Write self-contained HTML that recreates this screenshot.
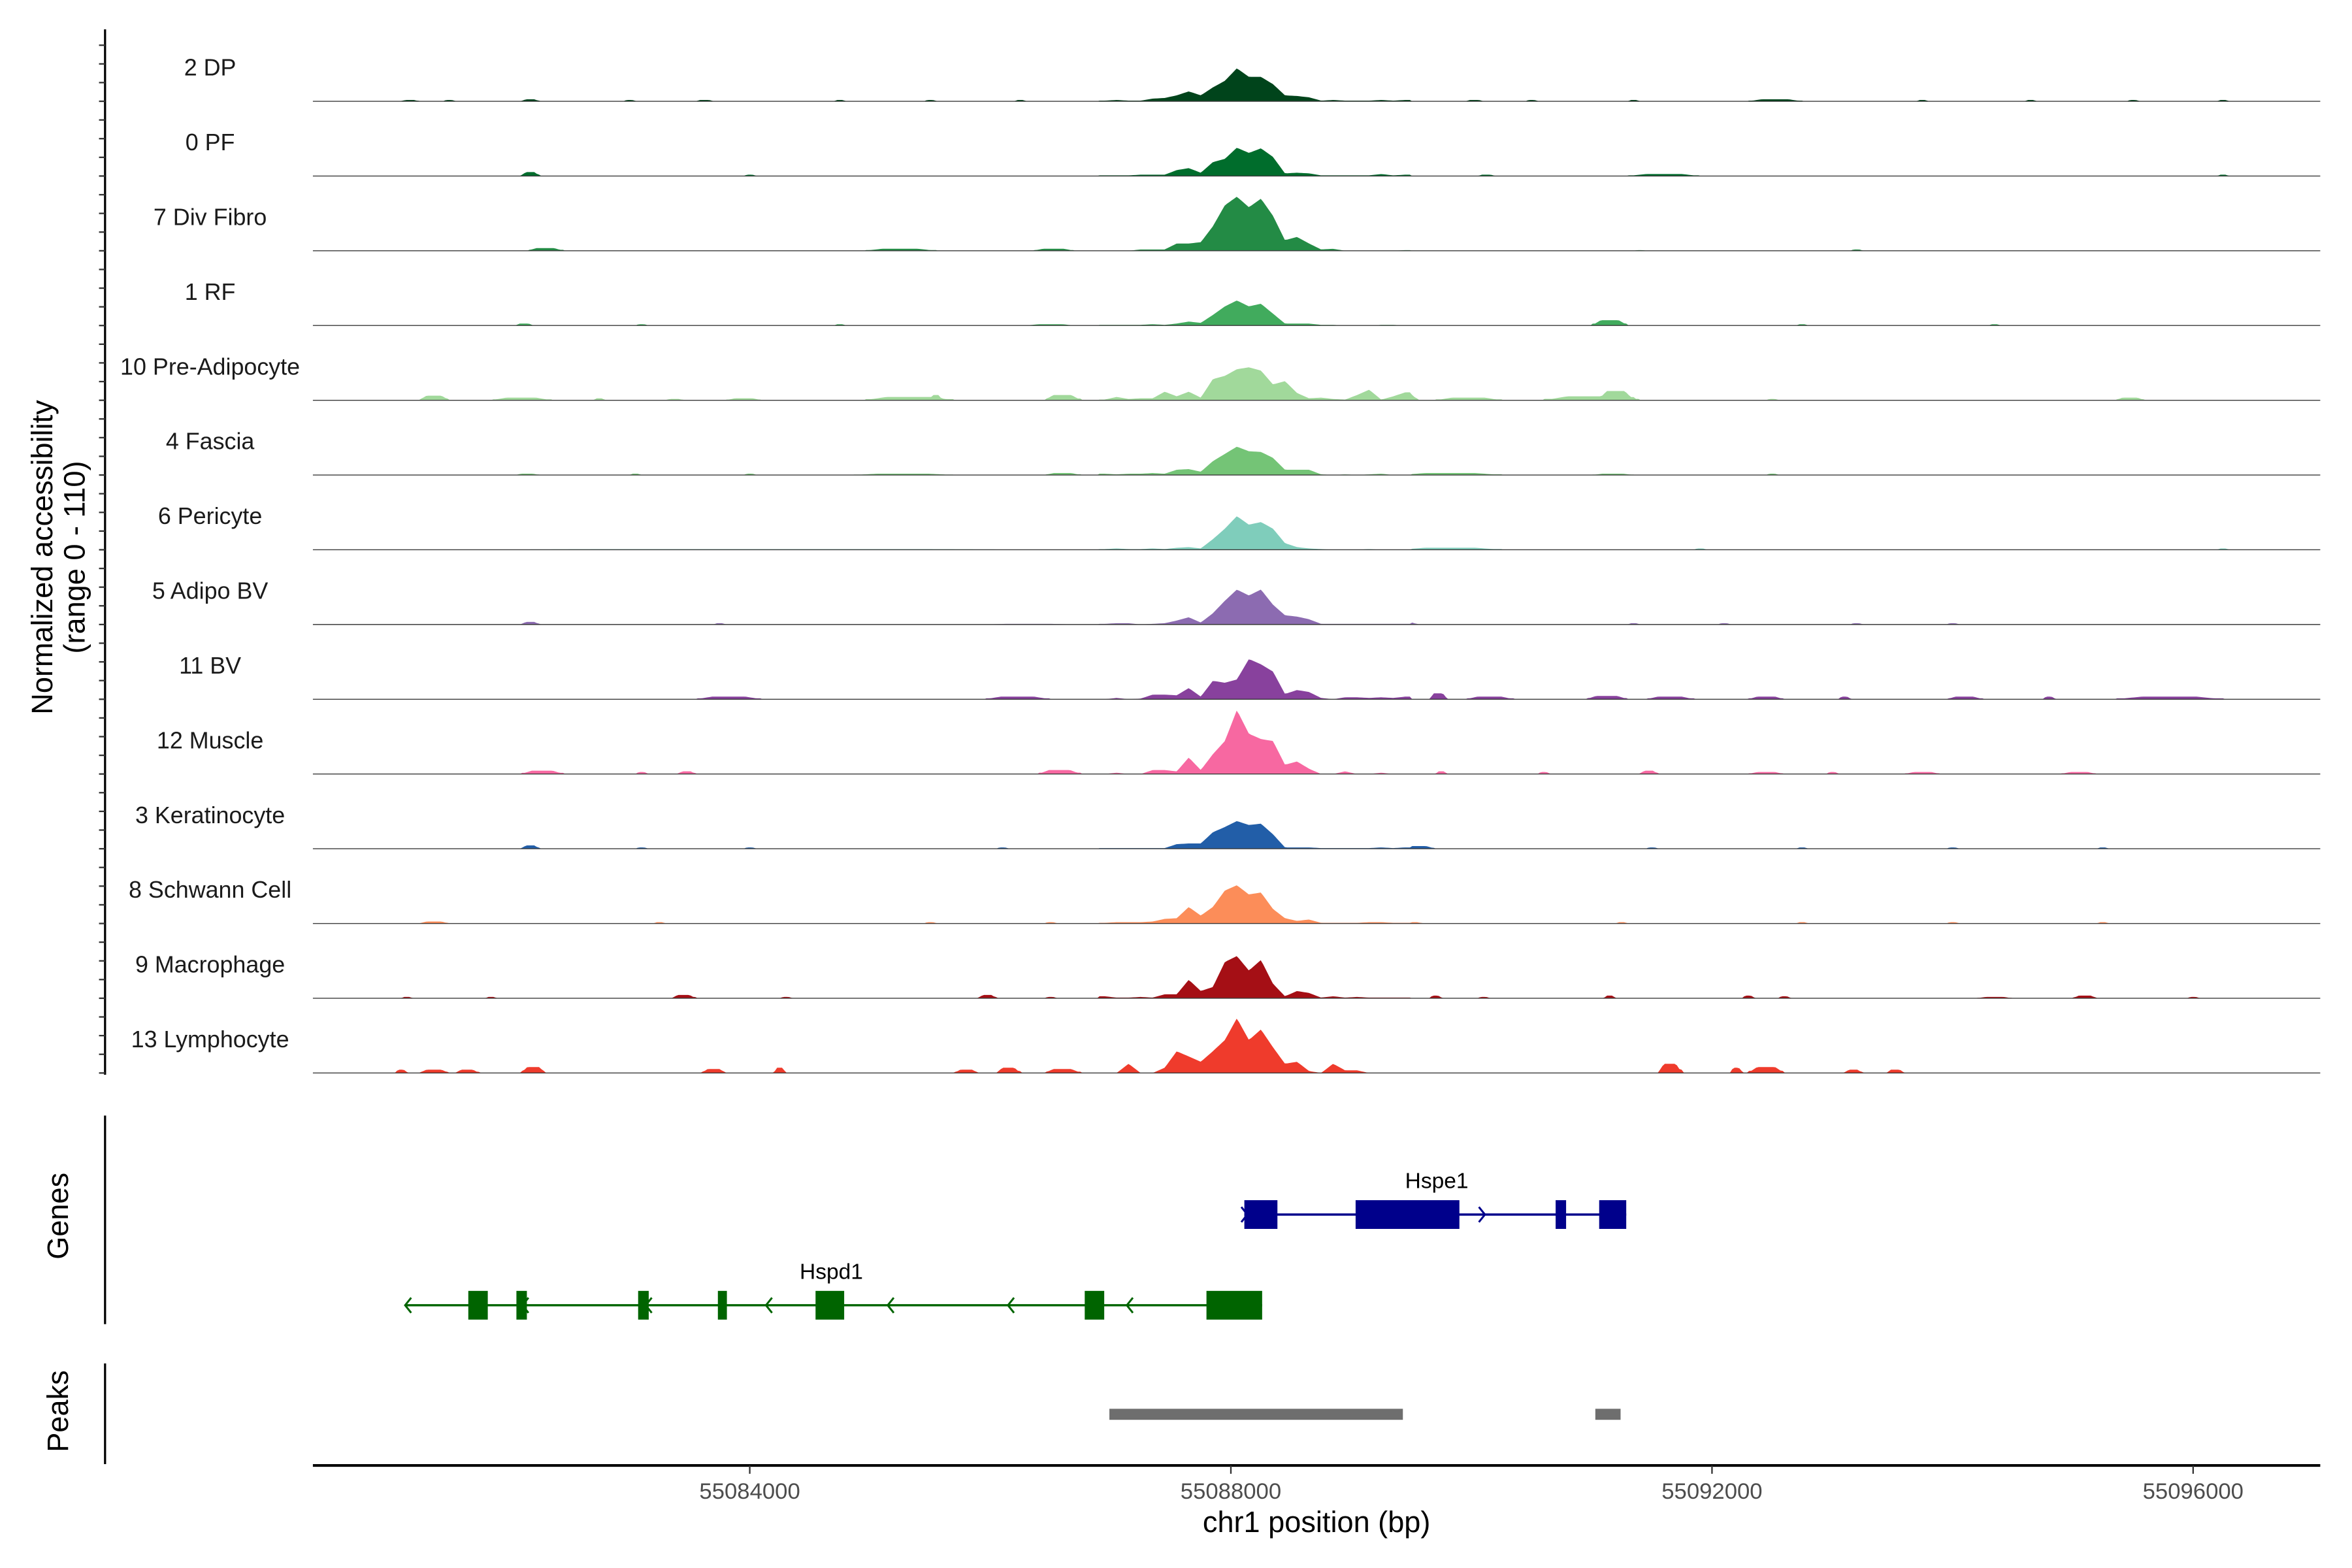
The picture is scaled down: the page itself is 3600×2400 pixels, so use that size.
<!DOCTYPE html>
<html><head><meta charset="utf-8"><title>Coverage plot chr1 Hspd1/Hspe1</title>
<style>html,body{margin:0;padding:0;background:#fff;}svg{display:block;}</style></head>
<body>
<svg id="chart" xmlns="http://www.w3.org/2000/svg" width="3600" height="2400" viewBox="0 0 1556 1037.33" preserveAspectRatio="none" font-family="Liberation Sans, Arial, sans-serif">
<rect x="0" y="0" width="1556" height="1037.33" fill="#fff"/>
<g id="tracks"></g>
<g id="yaxis"></g>
<text transform="translate(34.6,368.7) rotate(-90)" text-anchor="middle" font-size="19.5" fill="#000">Normalized accessibility</text>
<text transform="translate(56,368.7) rotate(-90)" text-anchor="middle" font-size="19.5" fill="#000">(range 0 - 110)</text>
<g id="genes"></g>
<line x1="69.5" y1="738" x2="69.5" y2="876" stroke="#000" stroke-width="1.4"/>
<text transform="translate(45,804.5) rotate(-90)" text-anchor="middle" font-size="19.5" fill="#000">Genes</text>
<g id="peaks"></g>
<line x1="69.5" y1="902" x2="69.5" y2="968.6" stroke="#000" stroke-width="1.4"/>
<text transform="translate(45,933.6) rotate(-90)" text-anchor="middle" font-size="19.5" fill="#000">Peaks</text>
<g id="xaxis"></g>
<text x="871" y="1013.6" text-anchor="middle" font-size="19.5" fill="#000">chr1 position (bp)</text>
</svg>
<script>
// ---- data (positions in bp; values = normalized accessibility 0-110) ----
const trackNames = ["2 DP","0 PF","7 Div Fibro","1 RF","10 Pre-Adipocyte","4 Fascia","6 Pericyte","5 Adipo BV","11 BV","12 Muscle","3 Keratinocyte","8 Schwann Cell","9 Macrophage","13 Lymphocyte"];
const trackColors = ["#00441b","#006d2c","#238b45","#41ab5d","#a1d99b","#74c476","#7fcdbb","#8c6bb1","#88419d","#f768a1","#225ea8","#fc8d59","#a50f15","#ef3b2c"];
const coreStart = 55086900;
const coreBinSize = 100;
const core2DP = [1,2,1,1,4,5,9,15,9,21,31,50,37,37,26,9,8,6,1,2,1,1,1,2,1,2];
const core0PF = [1,1,1,2,2,2,9,12,5,21,26,43,35,42,29,4,5,4,1,1,1,1,1,3,1,2];
const core7Div = [0,0,0,2,2,2,11,11,13,37,69,82,66,79,53,16,21,11,2,3,0,0,0,0,0,1];
const core1RF = [1,1,1,1,2,1,3,6,4,16,29,38,29,33,18,3,3,3,1,1,0,0,0,1,1,0];
const core10PreAd = [1,5,2,3,3,13,6,13,4,32,37,47,50,45,24,29,11,3,4,2,1,8,16,1,6,12];
const core4Fascia = [2,1,2,2,3,2,8,9,5,21,32,43,36,35,26,8,8,8,1,0,1,0,1,2,0,0];
const core6Peri = [1,2,1,1,2,1,3,4,2,16,32,51,38,42,32,10,4,2,1,0,0,0,1,0,0,0];
const core5AdBV = [1,2,2,0,1,2,6,11,3,17,36,53,44,53,30,14,12,8,1,1,1,1,1,1,1,1];
const core11BV = [0,2,0,1,7,7,6,17,4,28,25,30,61,53,42,8,14,11,2,0,3,3,2,3,2,4];
const core12Muscle = [0,2,0,0,6,6,4,25,6,30,50,97,61,53,50,14,19,8,0,0,4,0,0,2,0,0];
const core3Kera = [1,1,1,1,1,1,7,8,8,25,33,42,36,38,22,2,2,2,1,1,1,1,1,2,1,2];
const core8Schwann = [1,2,2,2,3,7,8,25,12,25,50,58,44,47,22,8,4,6,1,1,1,1,2,2,1,1];
const core9Macro = [3,1,1,2,1,6,6,28,11,17,55,64,42,58,22,3,11,8,1,3,1,2,1,1,1,1];
const core13Lymph = [0,0,14,0,0,8,33,25,17,33,50,83,50,66,39,14,17,3,0,14,4,4,0,0,0,0];
// background bumps: [start, end, value], positions relative to 55,000,000
const bg2DP = [[81100,81250,2],[81450,81550,2],[82100,82250,3],[82950,83050,2],[83550,83700,2],[84700,84800,2],[85450,85550,2],[86200,86300,2],[89950,90100,2],[90450,90550,2],[91300,91400,2],[92300,92750,3],[93700,93800,2],[94600,94700,2],[95450,95550,2],[96200,96300,2]];
const bg0PF = [[82100,82250,6],[83950,84050,2],[90050,90200,2],[91300,91900,3],[96200,96300,2]];
const bg7Div = [[82150,82450,4],[84950,85550,3],[86350,86700,3],[91350,91450,1],[93150,93250,2]];
const bg1RF = [[82050,82200,3],[83050,83150,2],[84700,84800,2],[86300,86700,2],[91000,91300,8],[92700,92800,2],[94300,94400,2]];
const bg10PreAd = [[81250,81500,7],[81850,82350,4],[82700,82800,3],[83300,83450,2],[83800,84100,3],[84950,85700,5],[85500,85600,8],[86450,86750,8],[89400,89550,8],[89700,90250,4],[90600,91400,6],[91050,91350,14],[92450,92550,2],[95350,95600,4]];
const bg4Fascia = [[82050,82250,2],[83000,83100,2],[83950,84050,2],[84850,85700,2],[86450,86750,3],[89400,90250,3],[91000,91350,2],[92450,92550,2]];
const bg6Peri = [[81500,86700,1],[89400,90250,3],[91850,91950,2],[96200,96300,2]];
const bg5AdBV = [[82100,82250,4],[83700,83800,2],[85950,86700,1],[89400,89550,3],[91300,91400,2],[92050,92150,2],[93150,93250,2],[93950,94050,2]];
const bg11BV = [[83550,84100,4],[85950,86500,4],[86950,87250,5],[89400,89500,5],[89650,89800,9],[89950,90350,4],[90950,91300,5],[91450,91850,4],[92300,92600,4],[93050,93150,4],[93950,94250,4],[94750,94850,4],[95350,96250,4]];
const bg12Muscle = [[82100,82450,5],[83050,83150,3],[83400,83550,4],[86400,86750,6],[89700,89800,4],[90550,90650,3],[91400,91550,5],[92300,92600,3],[92950,93050,3],[93600,93900,3],[94900,95200,3]];
const bg3Kera = [[82100,82250,5],[83050,83150,2],[83950,84050,2],[86050,86150,2],[89400,89700,4],[91450,91550,2],[92700,92800,2],[93950,94050,2],[95200,95300,2]];
const bg8Schwann = [[81250,81500,3],[83200,83300,2],[85450,85550,2],[86450,86550,2],[89400,89600,2],[91200,91300,2],[92700,92800,2],[93950,94050,2],[95200,95300,2]];
const bg9Macro = [[81100,81200,2],[81800,81900,2],[83350,83550,5],[84250,84350,2],[85900,86050,5],[86450,86550,2],[89650,89750,4],[90050,90150,2],[91100,91200,4],[92250,92350,4],[92550,92650,3],[94200,94500,2],[95000,95200,4],[95950,96050,2]];
const bg13Lymph = [[81050,81150,5],[81250,81500,5],[81550,81750,5],[82100,82300,9],[83600,83800,6],[84200,84300,8],[85700,85900,5],[86050,86250,8],[86450,86750,6],[91550,91750,14],[92150,92250,8],[92300,92600,9],[93100,93250,5],[93450,93600,5]];
const xTicks = [55084000,55088000,55092000,55096000];
const hspe1Exons = [[55088112,55088387],[55089037,55089900],[55090700,55090787],[55091062,55091287]];
const hspe1Span = [55088112,55091287];
const hspe1Arrows = [55088112,55090087];
const hspd1Exons = [[55081660,55081822],[55082060,55082147],[55083072,55083160],[55083735,55083810],[55084547,55084785],[55086785,55086947],[55087797,55088260]];
const hspd1Span = [55081135,55088260];
const hspd1Arrows = [55081160,55082135,55083160,55084160,55085172,55086172,55087160];
const peakRegions = [[55086990,55089430],[55091030,55091240]];

const cores = [core2DP,core0PF,core7Div,core1RF,core10PreAd,core4Fascia,core6Peri,core5AdBV,core11BV,core12Muscle,core3Kera,core8Schwann,core9Macro,core13Lymph];
const bgs = [bg2DP,bg0PF,bg7Div,bg1RF,bg10PreAd,bg4Fascia,bg6Peri,bg5AdBV,bg11BV,bg12Muscle,bg3Kera,bg8Schwann,bg9Macro,bg13Lymph];

// ---- scales ----
const NS = "http://www.w3.org/2000/svg";
const domain = [55080368, 55097057];
const xL = 207, xR = 1535;
function xs(bp){ return xL + (bp - domain[0]) * (xR - xL) / (domain[1] - domain[0]); }
const base0 = 67, trackGap = 49.45, yMax = 110, trackH = 48;
function baseY(k){ return base0 + k * trackGap; }
function ys(v,k){ return baseY(k) - Math.min(v,yMax) / yMax * trackH; }
function el(tag, attrs, parent){ const e = document.createElementNS(NS, tag); for (const a in attrs) e.setAttribute(a, attrs[a]); parent.appendChild(e); return e; }

function valueAt(k, bp){
  const core = cores[k];
  const cEnd = coreStart + core.length * coreBinSize;
  if (bp >= coreStart && bp < cEnd){
    const f = (bp - coreStart) / coreBinSize - 0.5;
    const i = Math.floor(f), t = f - i;
    const a = core[Math.max(0, Math.min(core.length-1, i))];
    const b = core[Math.max(0, Math.min(core.length-1, i+1))];
    return a + (b - a) * t;
  }
  let v = 0;
  for (const bm of bgs[k]){
    const s = 55000000 + bm[0], e = 55000000 + bm[1];
    if (bp >= s && bp <= e){
      const w = e - s, r = Math.max(20, w * 0.25);
      let f = Math.min(1, (bp - s) / r, (e - bp) / r);
      v = Math.max(v, bm[2] * Math.max(0.35, f));
    }
  }
  return v;
}

// ---- tracks ----
const tg = document.getElementById('tracks');
for (let k = 0; k < trackNames.length; k++){
  const g = el('g', {}, tg);
  
  
  const step = 20;
  let d = 'M' + xL + ',' + baseY(k).toFixed(2);
  for (let bp = domain[0]; bp <= domain[1]; bp += step){
    d += 'L' + xs(bp).toFixed(2) + ',' + ys(valueAt(k, bp), k).toFixed(2);
  }
  d += 'L' + xR + ',' + baseY(k).toFixed(2) + 'Z';
  const p = el('path', {d: d, fill: trackColors[k], stroke: 'none'}, g);
  
  
  const ln = el('line', {x1: xL, x2: xR, y1: baseY(k), y2: baseY(k), stroke: '#3a3a3a', 'stroke-width': 0.6}, g);
  
  
  const t = el('text', {x: 139, y: baseY(k) - 17, 'text-anchor': 'middle', 'font-size': 15.5, fill: '#1a1a1a'}, g);
  t.textContent = trackNames[k];
  
  
}

// ---- y axis ----
const ya = document.getElementById('yaxis');
const yl = el('line', {x1: 69.5, x2: 69.5, y1: 19.4, y2: 711, stroke: '#000', 'stroke-width': 1.4}, ya);


for (let j = -3; j <= 52; j++){
  const y = base0 + j * trackGap / 4;
  if (y > 711) break;
  const tk = el('line', {x1: 65.5, x2: 69.5, y1: y, y2: y, stroke: '#333', 'stroke-width': 1}, ya);
  
  
}

// ---- genes ----
const gg = document.getElementById('genes');
function drawGene(name, span, exons, arrows, y, color, dir){
  const g = el('g', {}, gg);
  
  
  const l = el('line', {x1: xs(span[0]), x2: xs(span[1]), y1: y, y2: y, stroke: color, 'stroke-width': 1.5}, g);
  
  
  for (const ex of exons){
    const r = el('rect', {x: xs(ex[0]), y: y - 9.5, width: xs(ex[1]) - xs(ex[0]), height: 19, fill: color}, g);
    
    
  }
  for (const a of arrows){
    const x = xs(a);
    const pts = dir > 0 ? `${x-2},${y-5} ${x+2},${y} ${x-2},${y+5}` : `${x+2},${y-5} ${x-2},${y} ${x+2},${y+5}`;
    const ar = el('polyline', {points: pts, fill: 'none', stroke: color, 'stroke-width': 1.3}, g);
    
    
  }
  return g;
}
const g1 = drawGene('Hspe1', hspe1Span, hspe1Exons, hspe1Arrows, 803.5, '#00008b', 1);
const t1 = el('text', {x: 950.5, y: 786, 'text-anchor': 'middle', 'font-size': 14.5, fill: '#000'}, g1);
t1.textContent = 'Hspe1';


const g2 = drawGene('Hspd1', hspd1Span, hspd1Exons, hspd1Arrows, 863.5, '#006400', -1);
const t2 = el('text', {x: 550, y: 846, 'text-anchor': 'middle', 'font-size': 14.5, fill: '#000'}, g2);
t2.textContent = 'Hspd1';



// ---- peaks ----
const pg = document.getElementById('peaks');
for (const pk of peakRegions){
  const r = el('rect', {x: xs(pk[0]), y: 932, width: xs(pk[1]) - xs(pk[0]), height: 7.3, fill: '#6e6e6e'}, pg);
  
  
}

// ---- x axis ----
const xa = document.getElementById('xaxis');
const xl = el('line', {x1: xL, x2: xR, y1: 969.5, y2: 969.5, stroke: '#000', 'stroke-width': 1.8}, xa);


for (const t of xTicks){
  const x = xs(t);
  const tk = el('line', {x1: x, x2: x, y1: 969.5, y2: 975, stroke: '#333', 'stroke-width': 1}, xa);
  
  
  const lb = el('text', {x: x, y: 991.5, 'text-anchor': 'middle', 'font-size': 15, fill: '#4d4d4d'}, xa);
  lb.textContent = String(t);
  
  
}
</script>
</body></html>
